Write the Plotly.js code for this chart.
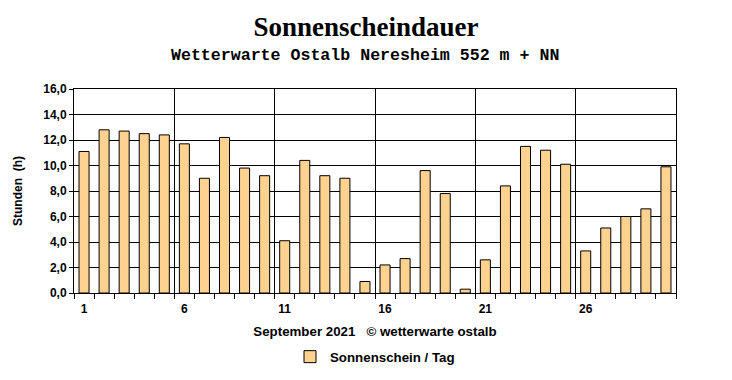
<!DOCTYPE html>
<html>
<head>
<meta charset="utf-8">
<script src="https://cdn.plot.ly/plotly-3.0.1.min.js"></script>
<style>html,body{margin:0;padding:0;background:#fff;}#chart{width:732px;height:380px;}</style>
</head>
<body>
<div id="chart"></div>
<script>
const days = [1,2,3,4,5,6,7,8,9,10,11,12,13,14,15,16,17,18,19,20,21,22,23,24,25,26,27,28,29,30];
const sunshine = [11.1,12.8,12.7,12.5,12.4,11.7,9.0,12.2,9.8,9.2,4.1,10.4,9.2,9.0,0.9,2.2,2.7,9.6,7.8,0.3,2.6,8.4,11.5,11.2,10.1,3.3,5.1,6.0,6.6,9.9];
const labelDays = [1,6,11,16,21,26];
const xTickText = ['1','6','11','16','21','26'];
const seriesName = 'Sonnenschein / Tag';
const titleText = 'Sonnenscheindauer';
const subtitleText = 'Wetterwarte Ostalb Neresheim 552 m + NN';
const xTitle = 'September 2021   \u00a9 wetterwarte ostalb';
const yTitle = 'Stunden  (h)';

// gridlines sit on the left edge of each labelled day's slot
const gridVals = labelDays.map(d => d - 0.5);

const tickFont = {family: 'Liberation Sans, Arial, sans-serif', size: 12, color: '#000', weight: 'bold'};
const bigFont = {family: 'Liberation Sans, Arial, sans-serif', size: 13.3, color: '#000', weight: 'bold'};

const data = [{
  type: 'bar',
  x: days,
  y: sunshine,
  name: seriesName,
  showlegend: true,
  marker: {
    color: '#FFC870',
    line: {color: '#000', width: 1},
    pattern: {shape: '.', fgcolor: '#FF9900', bgcolor: '#FFFFFF', size: 2, solidity: 0.5}
  },
  hoverinfo: 'x+y'
}];

const layout = {
  width: 732, height: 380,
  paper_bgcolor: '#fff', plot_bgcolor: '#fff',
  margin: {l: 74, r: 56, t: 89, b: 87, autoexpand: false},
  bargap: 0.5,
  title: {text: '<b>' + titleText + '</b>', font: {family: 'Liberation Serif, Times New Roman, serif', size: 27, color: '#000'},
          x: 0.5, xref: 'container', y: 1 - 27/380, yref: 'container', yanchor: 'middle'},
  annotations: [{
    text: subtitleText, xref: 'paper', yref: 'paper', x: (365-74)/602, y: 1 + (89-56)/204,
    xanchor: 'center', yanchor: 'middle', showarrow: false,
    font: {family: 'Liberation Mono, Courier New, monospace', size: 16.6, color: '#000', weight: 'bold'}
  }],
  xaxis: {
    range: [0.5, 30.5], tickmode: 'array', tickvals: gridVals, ticktext: xTickText,
    ticklabelshift: 10,
    ticks: 'outside', ticklen: 5, tickcolor: '#000', tickwidth: 1,
    showgrid: true, gridcolor: '#000', gridwidth: 1, zeroline: false,
    showline: true, linecolor: '#000', linewidth: 1, mirror: true,
    tickfont: tickFont, automargin: false,
    minor: {tickmode: 'linear', tick0: 0.5, dtick: 1, ticks: 'outside', ticklen: 5, tickcolor: '#000', tickwidth: 1, showgrid: false},
    title: {text: xTitle, font: bigFont, standoff: 11}
  },
  yaxis: {
    range: [0, 16], tickmode: 'linear', tick0: 0, dtick: 2, tickformat: '.1f',
    ticks: 'outside', ticklen: 4, tickcolor: '#000',
    showgrid: true, gridcolor: '#000', gridwidth: 1, zeroline: false,
    showline: true, linecolor: '#000', linewidth: 1, mirror: true,
    tickfont: tickFont, automargin: false,
    title: {text: yTitle, font: tickFont, standoff: 18}
  },
  yaxis2: {
    overlaying: 'y', side: 'right', anchor: 'x', range: [0, 16], tickmode: 'linear', tick0: 0, dtick: 2, tickformat: '.1f',
    ticks: 'outside', ticklen: 4, tickcolor: '#000', showgrid: false, zeroline: false,
    tickfont: tickFont, automargin: false
  },
  separators: ',.',
  legend: {orientation: 'h', x: 0.5, xanchor: 'center', y: (293-357)/204, yanchor: 'middle',
           font: bigFont, bgcolor: 'rgba(0,0,0,0)'},
  showlegend: true
};

Plotly.newPlot('chart', data, layout, {displayModeBar: false, staticPlot: true});
</script>
</body>
</html>
